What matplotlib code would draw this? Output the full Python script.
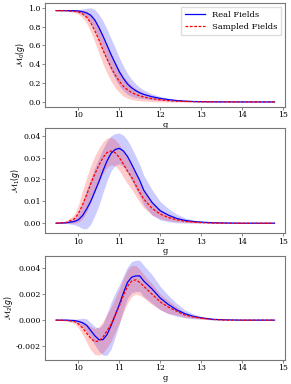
import matplotlib
matplotlib.use('Agg')
import matplotlib.pyplot as plt
import numpy as np

plt.rcParams['font.family'] = 'DejaVu Serif'
plt.rcParams['mathtext.fontset'] = 'dejavusans'

# threshold grid
g = [9.45, 9.7, 9.9, 10.0, 10.1, 10.2, 10.3, 10.4, 10.5, 10.6, 10.7, 10.8, 10.9, 11.0, 11.1, 11.2,
     11.3, 11.4, 11.5, 11.6, 11.8, 12.0, 12.2, 12.4, 12.6, 12.8, 13.0, 13.3, 13.6, 14.0, 14.4, 14.8]

# M0
m0_real = [0.970, 0.970, 0.969, 0.966, 0.958, 0.945, 0.920, 0.870, 0.790, 0.700, 0.600, 0.500, 0.410, 0.320, 0.250, 0.190,
           0.150, 0.120, 0.097, 0.080, 0.055, 0.038, 0.025, 0.015, 0.009, 0.005, 0.003, 0.001, 0.0005, 0, 0, 0]
m0_real_std = [0, 0.002, 0.008, 0.015, 0.030, 0.050, 0.080, 0.110, 0.140, 0.160, 0.170, 0.170, 0.165, 0.150, 0.130, 0.110,
               0.090, 0.072, 0.058, 0.046, 0.030, 0.020, 0.013, 0.008, 0.005, 0.003, 0.002, 0.001, 0, 0, 0, 0]
m0_samp = [0.970, 0.969, 0.962, 0.955, 0.935, 0.900, 0.840, 0.755, 0.660, 0.550, 0.455, 0.365, 0.285, 0.220, 0.165, 0.130,
           0.100, 0.080, 0.065, 0.052, 0.034, 0.022, 0.014, 0.008, 0.005, 0.003, 0.002, 0.001, 0, 0, 0, 0]
m0_samp_std = [0, 0.003, 0.012, 0.022, 0.040, 0.065, 0.095, 0.120, 0.140, 0.150, 0.150, 0.145, 0.135, 0.120, 0.105, 0.090,
               0.075, 0.062, 0.052, 0.043, 0.030, 0.021, 0.014, 0.009, 0.005, 0.003, 0.002, 0.001, 0, 0, 0, 0]

# M1
m1_real = [0, 0.0002, 0.0008, 0.0016, 0.0035, 0.0065, 0.0100, 0.0145, 0.0190, 0.0240, 0.0285, 0.0320, 0.0337, 0.0342, 0.0330, 0.0305,
           0.0270, 0.0232, 0.0195, 0.0150, 0.0095, 0.0057, 0.0037, 0.0022, 0.0013, 0.0008, 0.0005, 0.0002, 0.0001, 0, 0, 0]
m1_real_std = [0, 0.0003, 0.0015, 0.0030, 0.0060, 0.0090, 0.0105, 0.0110, 0.0108, 0.0100, 0.0090, 0.0080, 0.0073, 0.0070, 0.0072, 0.0074,
               0.0075, 0.0075, 0.0072, 0.0068, 0.0058, 0.0042, 0.0030, 0.0020, 0.0012, 0.0007, 0.0004, 0.0002, 0.0001, 0, 0, 0]
m1_samp = [0, 0.0004, 0.0020, 0.0045, 0.0085, 0.0130, 0.0180, 0.0225, 0.0265, 0.0300, 0.0323, 0.0330, 0.0322, 0.0300, 0.0270, 0.0238,
           0.0210, 0.0175, 0.0140, 0.0110, 0.0068, 0.0042, 0.0026, 0.0016, 0.0009, 0.0005, 0.0003, 0.0001, 0, 0, 0, 0]
m1_samp_std = [0, 0.0005, 0.0020, 0.0040, 0.0065, 0.0078, 0.0083, 0.0083, 0.0078, 0.0072, 0.0067, 0.0063, 0.0060, 0.0060, 0.0060, 0.0058,
               0.0055, 0.0050, 0.0045, 0.0040, 0.0030, 0.0021, 0.0014, 0.0009, 0.0005, 0.0003, 0.0002, 0.0001, 0, 0, 0, 0]

# M2
m2_real = [0, 0, -0.00003, -0.0001, -0.0002, -0.0004, -0.0008, -0.0012, -0.0015, -0.0015, -0.0011, -0.0004, 0.0004, 0.0012, 0.0021, 0.0029,
           0.0033, 0.0034, 0.0034, 0.0030, 0.0024, 0.0017, 0.0012, 0.0008, 0.0005, 0.0003, 0.00018, 0.00006, 0.00002, 0, 0, 0]
m2_real_std = [0, 0.00003, 0.0001, 0.0002, 0.00035, 0.0005, 0.0006, 0.0007, 0.0009, 0.0012, 0.0016, 0.0018, 0.0017, 0.0015, 0.0013, 0.0012,
               0.0012, 0.0012, 0.0012, 0.0012, 0.0011, 0.0009, 0.0007, 0.0005, 0.0003, 0.0002, 0.0001, 0.00005, 0, 0, 0, 0]
m2_samp = [0, -0.00002, -0.0001, -0.0003, -0.0006, -0.0010, -0.0014, -0.00165, -0.0016, -0.0013, -0.0008, -0.0003, 0.0004, 0.0011, 0.0019, 0.0026,
           0.0030, 0.0031, 0.0029, 0.0026, 0.0020, 0.0014, 0.0010, 0.0007, 0.0004, 0.00025, 0.00015, 0.00005, 0, 0, 0, 0]
m2_samp_std = [0, 0.00005, 0.00015, 0.0003, 0.0005, 0.0007, 0.0009, 0.0010, 0.0011, 0.0012, 0.0013, 0.0013, 0.0013, 0.0013, 0.0013, 0.0013,
               0.0012, 0.0011, 0.0010, 0.0009, 0.0008, 0.0006, 0.0005, 0.0003, 0.0002, 0.0001, 0.00006, 0.00002, 0, 0, 0, 0]

panels = [
    (m0_real, m0_real_std, m0_samp, m0_samp_std, r'$\mathcal{M}_0(g)$', [0.0, 0.2, 0.4, 0.6, 0.8, 1.0], '%.1f'),
    (m1_real, m1_real_std, m1_samp, m1_samp_std, r'$\mathcal{M}_1(g)$', [0.0, 0.01, 0.02, 0.03, 0.04], '%.2f'),
    (m2_real, m2_real_std, m2_samp, m2_samp_std, r'$\mathcal{M}_2(g)$', [-0.002, 0.0, 0.002, 0.004], '%.3f'),
]

fig = plt.figure(figsize=(2.91, 3.84), dpi=100)
boxes = [[0.155, 0.722, 0.826, 0.270], [0.155, 0.392, 0.826, 0.274], [0.155, 0.0625, 0.826, 0.272]]
fs = 5.6

x = np.array(g)
for (mr, sr, ms, ss, ylab, yt, fmt), box in zip(panels, boxes):
    ax = fig.add_axes(box)
    mr, sr, ms, ss = map(np.array, (mr, sr, ms, ss))
    ax.plot(x, mr, color='blue', lw=0.9, label='Real Fields')
    ax.fill_between(x, mr - sr, mr + sr, color='blue', alpha=0.2, lw=0)
    ax.plot(x, ms, color='red', lw=0.9, ls='--', dashes=(2.2, 1.3), label='Sampled Fields')
    ax.fill_between(x, ms - ss, ms + ss, color='red', alpha=0.2, lw=0)
    ax.set_xticks([10, 11, 12, 13, 14, 15])
    ax.set_yticks(yt)
    ax.yaxis.set_major_formatter(matplotlib.ticker.FormatStrFormatter(fmt))
    ax.tick_params(labelsize=fs, length=2, width=0.5, color='#555555', pad=1.2)
    for sp in ax.spines.values():
        sp.set_color('#777777')
        sp.set_linewidth(0.8)
    ax.set_xlabel('g', fontsize=fs + 0.4, labelpad=1)
    ax.set_ylabel(ylab, fontsize=5.6, labelpad=0.5)
    if box is boxes[0]:
        ax.legend(loc='upper right', fontsize=6.0, handlelength=2.4, borderpad=0.5,
                  labelspacing=0.45, framealpha=1, edgecolor='#dddddd', fancybox=False)

plt.savefig('out.png', dpi=100)
